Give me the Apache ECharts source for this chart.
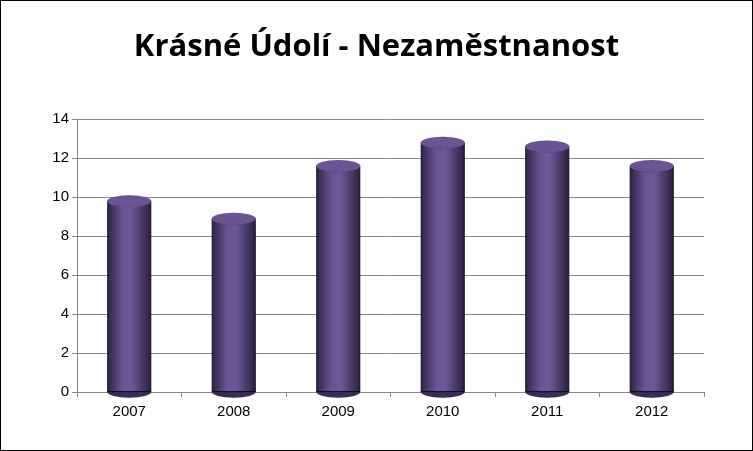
<!DOCTYPE html><html><head><meta charset="utf-8">
<script src="https://cdn.jsdelivr.net/npm/echarts@6/dist/echarts.min.js"></script>
<style>html,body{margin:0;padding:0;background:#fff}#c{width:753px;height:451px;box-sizing:border-box;border:1px solid #000}</style>
</head><body><div id="c"></div><script>
const categories=['2007','2008','2009','2010','2011','2012'];
const values=[9.8,8.9,11.6,12.8,12.6,11.6];
const yTicks={min:0,max:14,interval:2};
const chart=echarts.init(document.getElementById('c'));
const grad=new echarts.graphic.LinearGradient(0,0,1,0,[
 {offset:0,color:'#2e2346'},{offset:0.35,color:'#6a5494'},{offset:0.55,color:'#6e5899'},{offset:1,color:'#2a2040'}]);
chart.setOption({
 animation:false,
 title:{text:'Krásné Údolí - Nezaměstnanost',left:'center',top:26,textStyle:{fontFamily:'Open Sans',fontWeight:'bold',fontSize:31,color:'#000'}},
 grid:{left:76,right:48,top:118,bottom:58},
 xAxis:{type:'category',data:categories,axisLine:{lineStyle:{color:'#888'}},axisTick:{show:true,lineStyle:{color:'#888'}},axisLabel:{color:'#000',fontSize:15,fontFamily:'Liberation Sans',margin:12}},
 yAxis:{type:'value',min:yTicks.min,max:yTicks.max,interval:yTicks.interval,axisLine:{show:true,lineStyle:{color:'#888'}},axisTick:{show:true,lineStyle:{color:'#888'}},axisLabel:{color:'#000',fontSize:15,fontFamily:'Liberation Sans'},splitLine:{lineStyle:{color:'#888'}}},
 series:[
  {type:'bar',data:values,barWidth:44,itemStyle:{color:grad,borderColor:'#000',borderWidth:0.8},z:2},
  {type:'pictorialBar',data:values,symbol:'circle',symbolSize:[44,12],symbolPosition:'end',symbolOffset:[0,'-50%'],itemStyle:{color:'#6a5494',borderColor:'#000',borderWidth:1},z:4},
  {type:'pictorialBar',data:values,symbol:'circle',symbolSize:[44,12],symbolPosition:'start',symbolOffset:[0,'50%'],itemStyle:{color:'#3a2c58',borderColor:'#000',borderWidth:1},z:1}
 ]
});
</script></body></html>
